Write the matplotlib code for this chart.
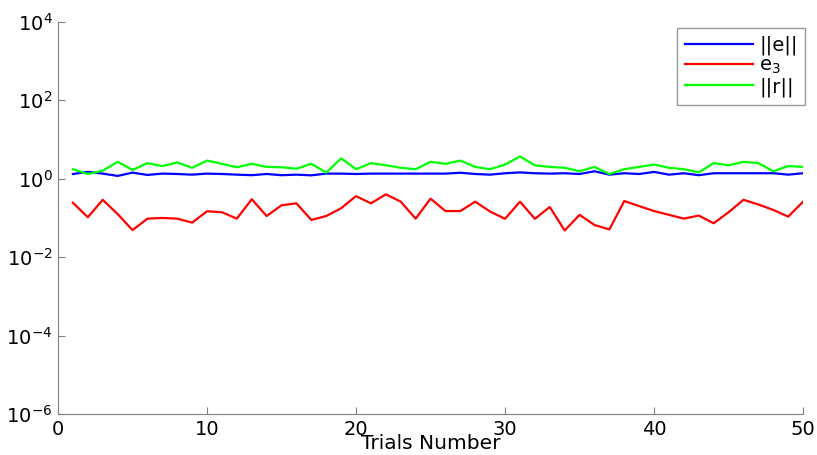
import matplotlib
matplotlib.use('Agg')
import matplotlib.pyplot as plt
import numpy as np

# Data
trials = np.arange(1, 51)

e_norm = [1.32, 1.50, 1.35, 1.18, 1.43, 1.25, 1.35, 1.32, 1.27, 1.35,
          1.32, 1.27, 1.23, 1.32, 1.23, 1.27, 1.22, 1.35, 1.35, 1.32,
          1.35, 1.35, 1.35, 1.35, 1.35, 1.35, 1.42, 1.32, 1.27, 1.38,
          1.45, 1.38, 1.35, 1.38, 1.32, 1.55, 1.27, 1.38, 1.32, 1.49,
          1.27, 1.38, 1.23, 1.38, 1.38, 1.38, 1.38, 1.38, 1.27, 1.38]

e3 = [0.245, 0.104, 0.29, 0.126, 0.049, 0.096, 0.10, 0.096, 0.076, 0.148,
      0.14, 0.096, 0.30, 0.112, 0.21, 0.236, 0.089, 0.112, 0.177, 0.36,
      0.236, 0.40, 0.26, 0.096, 0.31, 0.15, 0.15, 0.26, 0.145, 0.095,
      0.26, 0.095, 0.19, 0.048, 0.12, 0.066, 0.051, 0.27, 0.20, 0.15,
      0.12, 0.096, 0.115, 0.073, 0.14, 0.29, 0.22, 0.16, 0.108, 0.26]

r_norm = [1.75, 1.32, 1.60, 2.70, 1.67, 2.50, 2.10, 2.60, 1.90, 2.90,
          2.40, 1.96, 2.40, 2.00, 1.96, 1.80, 2.40, 1.43, 3.30, 1.75,
          2.50, 2.20, 1.90, 1.75, 2.70, 2.40, 2.90, 2.00, 1.75, 2.30,
          3.70, 2.20, 2.00, 1.90, 1.55, 2.00, 1.32, 1.75, 2.00, 2.30,
          1.90, 1.75, 1.45, 2.50, 2.20, 2.70, 2.50, 1.55, 2.10, 2.00]

fig = plt.figure(figsize=(8.17, 4.55), dpi=100)
ax = fig.add_axes([0.071, 0.09, 0.912, 0.862])

ax.semilogy(trials, e_norm, color='#0000ff', lw=1.6, label='||e||')
ax.semilogy(trials, e3, color='#ff0000', lw=1.6, label='$\\mathregular{e_3}$')
ax.semilogy(trials, r_norm, color='#00ff00', lw=1.6, label='||r||')

ax.set_xlim(0, 50)
ax.set_ylim(1e-6, 1e4)
ax.set_xticks([0, 10, 20, 30, 40, 50])
ax.set_yticks([1e-6, 1e-4, 1e-2, 1e0, 1e2, 1e4])
ax.minorticks_off()
ax.tick_params(direction='in', labelsize=14, color='#808080', length=5)
ax.tick_params(axis='x', pad=4)
ax.tick_params(axis='y', pad=4)

for s in ['top', 'right']:
    ax.spines[s].set_visible(False)
for s in ['left', 'bottom']:
    ax.spines[s].set_color('#808080')

ax.set_xlabel('Trials Number', fontsize=14.5, labelpad=-3)

leg = ax.legend(loc='upper right', bbox_to_anchor=(1.003, 0.985), borderaxespad=0,
                fontsize=14, fancybox=False, edgecolor='#808080', handlelength=3.5,
                handletextpad=0.3, borderpad=0.4, labelspacing=0.05)
leg.get_frame().set_linewidth(1.0)

fig.savefig('out.png', dpi=100)
